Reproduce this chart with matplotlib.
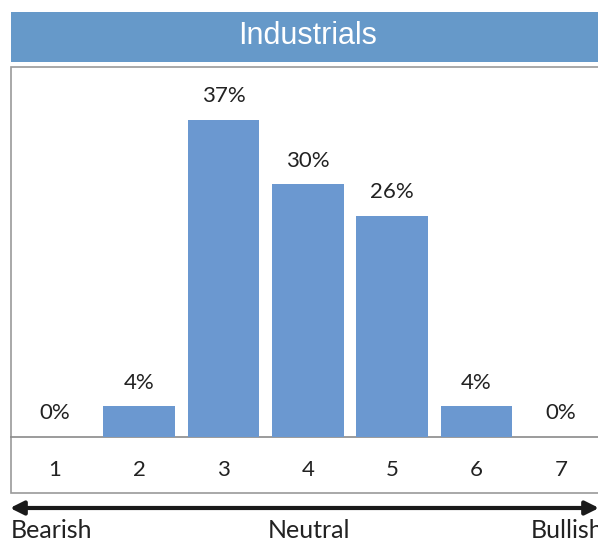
import matplotlib.pyplot as plt
from matplotlib.patches import Rectangle

# Data
categories = [1, 2, 3, 4, 5, 6, 7]
values = [0, 3.6, 37, 29.5, 25.8, 3.6, 0]
labels = ['0%', '4%', '37%', '30%', '26%', '4%', '0%']
title = 'Industrials'
bar_color = '#6b98d0'
head_color = '#6699c9'

W, H = 598, 544
fig = plt.figure(figsize=(W / 100, H / 100), dpi=100)
plt.rcParams['font.family'] = ['Lato', 'DejaVu Sans']
txt = dict(color='#222222', fontweight='normal')

# background axes in pixel coords (origin top-left)
bg = fig.add_axes([0, 0, 1, 1])
bg.set_xlim(0, W)
bg.set_ylim(H, 0)
bg.axis('off')

# title bar
bg.add_patch(Rectangle((11, 12), 620, 50, facecolor=head_color, edgecolor='none'))
bg.text(308, 36, title, color='white', fontsize=22, ha='center', va='center',
        family='Liberation Sans')

# plot box
bg.add_patch(Rectangle((11, 67), 620, 426, facecolor='white', edgecolor='#9a9a9a', lw=1.2))
bg.plot([11, 620], [437, 437], color='#8a8a8a', lw=1.2)

# arrow
bg.annotate('', xy=(10, 508), xytext=(599, 508),
            arrowprops=dict(arrowstyle='<|-|>', color='#1a1a1a', lw=3,
                            mutation_scale=20, shrinkA=0, shrinkB=0))
bg.text(11, 530, 'Bearish', fontsize=18, ha='left', va='center', **txt)
bg.text(309, 530, 'Neutral', fontsize=18, ha='center', va='center', **txt)
bg.text(531, 530, 'Bullish', fontsize=18, ha='left', va='center', **txt)

# bar axes
ax = fig.add_axes([11 / W, (H - 437) / H, (W - 11) / W, 370 / H])
ax.set_xlim(0.478, 7.44)
ax.set_ylim(0, 370 / 8.57)
ax.axis('off')
ax.bar(categories, values, width=0.85, color=bar_color)
for c, v, l in zip(categories, values, labels):
    ax.annotate(l, (c, v), xytext=(0, 17), textcoords='offset points',
                ha='center', va='center', fontsize=16, **txt)
    # category labels below baseline
    ax.annotate(str(c), (c, 0), xytext=(0, -24), textcoords='offset points',
                ha='center', va='center', fontsize=16, **txt)

fig.savefig('out.png', dpi=100)
